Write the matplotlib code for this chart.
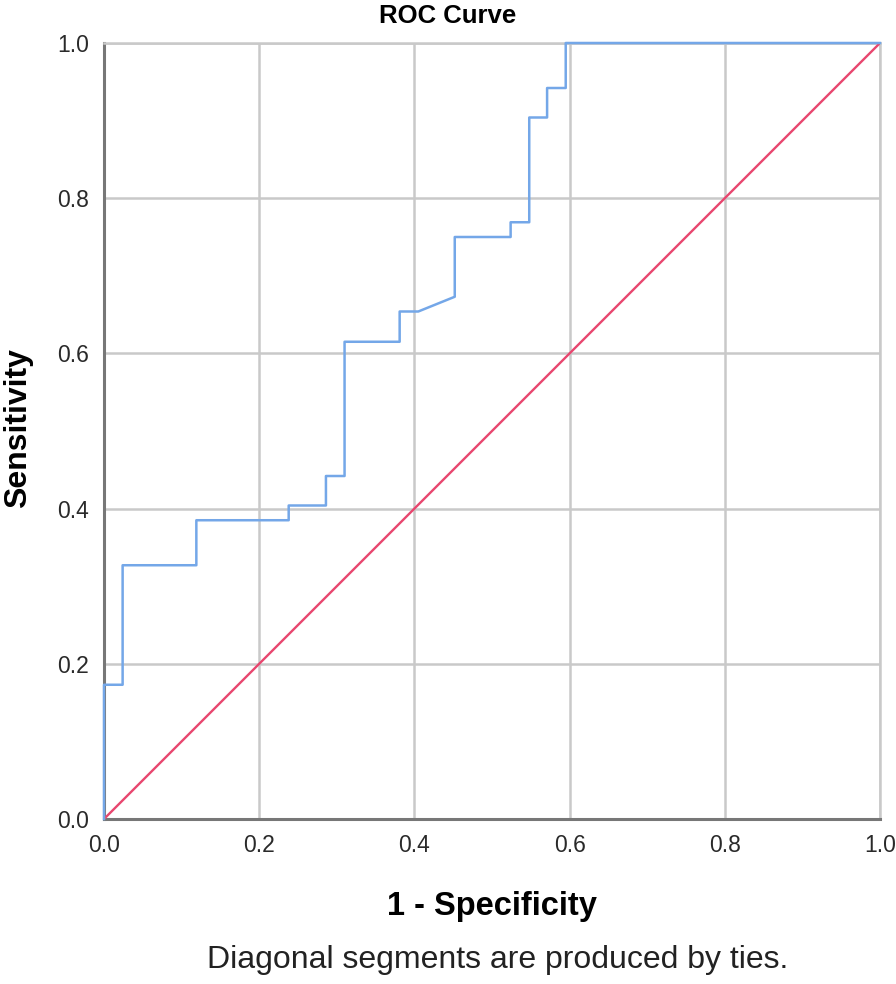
import matplotlib
matplotlib.use("Agg")
import matplotlib.pyplot as plt

plt.rcParams['font.family'] = ['Liberation Sans', 'DejaVu Sans']

# ROC curve points (1 - specificity, sensitivity)
fpr = [0.0, 0.0, 0.024, 0.024, 0.119, 0.119, 0.238, 0.238, 0.286, 0.286,
       0.310, 0.310, 0.381, 0.381, 0.405, 0.452, 0.452, 0.524, 0.524, 0.548,
       0.548, 0.571, 0.571, 0.595, 0.595, 1.0]
tpr = [0.0, 0.173, 0.173, 0.327, 0.327, 0.385, 0.385, 0.404, 0.404, 0.442,
       0.442, 0.615, 0.615, 0.654, 0.654, 0.673, 0.750, 0.750, 0.769, 0.769,
       0.904, 0.904, 0.942, 0.942, 1.0, 1.0]
ref_line = [0.0, 1.0]
ticks = [0.0, 0.2, 0.4, 0.6, 0.8, 1.0]

fig = plt.figure(figsize=(8.96, 9.84), dpi=100)
ax = fig.add_axes([104/896, 1 - 819/984, 776/896, 776/984])

ax.plot(ref_line, ref_line, color='#e8466f', linewidth=1.7, zorder=3)
ax.plot(fpr, tpr, color='#74a7e8', linewidth=1.8, zorder=4, clip_on=False)

ax.set_xlim(0, 1)
ax.set_ylim(0, 1)
ax.set_xticks(ticks)
ax.set_yticks(ticks)
ax.set_xticklabels([f'{t:.1f}' for t in ticks])
ax.set_yticklabels([f'{t:.1f}' for t in ticks])
ax.tick_params(length=0, labelsize=16.5, labelcolor='#2a2a2a', pad=11)
ax.grid(True, color='#c9c9c9', linewidth=1.8)
ax.set_axisbelow(True)

for side in ['top', 'right']:
    ax.spines[side].set_color('#c9c9c9')
    ax.spines[side].set_linewidth(1.8)
for side in ['left', 'bottom']:
    ax.spines[side].set_color('#777777')
    ax.spines[side].set_linewidth(2.2)

fig.text(448/896, 1 - 16/984, 'ROC Curve', ha='center', va='center',
         fontsize=18.5, fontweight='bold')
fig.text(492/896, 1 - 907/984, '1 - Specificity', ha='center', va='center',
         fontsize=23.5, fontweight='bold')
fig.text(18/896, 1 - 428/984, 'Sensitivity', ha='center', va='center',
         rotation=90, fontsize=23, fontweight='bold')
fig.text(498/896, 1 - 960/984, 'Diagonal segments are produced by ties.',
         ha='center', va='center', fontsize=23, color='#222222')

fig.savefig('out.png', dpi=100)
